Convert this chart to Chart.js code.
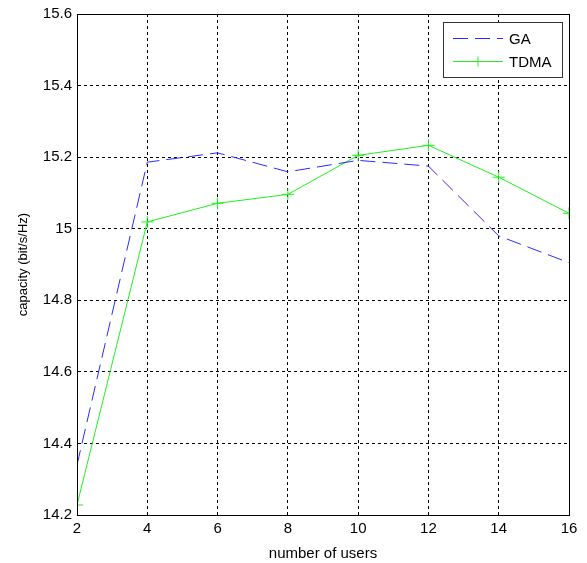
<!DOCTYPE html>
<html>
<head>
<meta charset="utf-8">
<script src="https://cdn.jsdelivr.net/npm/chart.js@4"></script>
<style>
  body { margin: 0; background: #fff; }
  #wrap { width: 587px; height: 563px; }
</style>
</head>
<body>
<div id="wrap"><canvas id="myChart" width="587" height="563"></canvas></div>
<script>
let users = [2, 4, 6, 8, 10, 12, 14, 16];
let gaCapacity = [14.34, 15.186, 15.212, 15.159, 15.191, 15.175, 14.98, 14.905];
let tdmaCapacity = [14.228, 15.019, 15.071, 15.096, 15.205, 15.233, 15.144, 15.043];
let seriesNames = ['GA', 'TDMA'];
let seriesColors = ['#2b2bff', '#22ee22'];

let fontFamily = '"Liberation Sans", Arial, sans-serif';

function toPoints(xs, ys) {
    return xs.map((x, i) => ({ x: x, y: ys[i] }));
}

// box around the plot + legend drawn inside the plot area
let frameAndLegend = {
    id: 'frameAndLegend',
    afterDatasetsDraw(chart) {
        let ctx = chart.ctx;
        let a = chart.chartArea;
        ctx.save();
        ctx.strokeStyle = '#000';
        ctx.lineWidth = 1;
        ctx.setLineDash([]);
        ctx.strokeRect(Math.round(a.left) + 0.5, Math.round(a.top) + 0.5,
            Math.round(a.right - a.left), Math.round(a.bottom - a.top));

        let bx = Math.round(a.right) - 126, by = Math.round(a.top) + 8, bw = 119, bh = 55;
        ctx.fillStyle = '#fff';
        ctx.fillRect(bx, by, bw, bh);
        ctx.strokeStyle = '#333';
        ctx.strokeRect(bx + 0.5, by + 0.5, bw, bh);

        chart.data.datasets.forEach((ds, i) => {
            let y = by + 16 + i * 23 + 0.5;
            ctx.strokeStyle = ds.borderColor;
            ctx.lineWidth = 1;
            ctx.setLineDash(ds.borderDash || []);
            ctx.beginPath();
            ctx.moveTo(bx + 10, y);
            ctx.lineTo(bx + 60, y);
            ctx.stroke();
            ctx.setLineDash([]);
            if (ds.pointStyle === 'cross') {
                ctx.beginPath();
                ctx.moveTo(bx + 35, y - 5);
                ctx.lineTo(bx + 35, y + 5);
                ctx.moveTo(bx + 30, y);
                ctx.lineTo(bx + 40, y);
                ctx.stroke();
            }
            ctx.fillStyle = '#000';
            ctx.font = '15px ' + fontFamily;
            ctx.textBaseline = 'middle';
            ctx.fillText(ds.label, bx + 66, y + 1);
        });
        ctx.restore();
    }
};

let ctx = document.getElementById('myChart').getContext('2d');

let chart = new Chart(ctx, {
    type: 'line',
    data: {
        datasets: [{
            label: seriesNames[0],
            data: toPoints(users, gaCapacity),
            borderColor: seriesColors[0],
            borderWidth: 1,
            borderDash: [15, 7],
            pointRadius: 0,
            fill: false,
            tension: 0
        }, {
            label: seriesNames[1],
            data: toPoints(users, tdmaCapacity),
            borderColor: seriesColors[1],
            backgroundColor: seriesColors[1],
            borderWidth: 1,
            pointStyle: 'cross',
            pointRadius: 6,
            pointBorderWidth: 1,
            fill: false,
            tension: 0
        }]
    },
    options: {
        responsive: false,
        animation: false,
        layout: { padding: { top: 14, right: 18, left: 0, bottom: 0 } },
        plugins: {
            legend: { display: false },
            tooltip: { enabled: false }
        },
        scales: {
            x: {
                type: 'linear',
                min: 2,
                max: 16,
                ticks: {
                    stepSize: 2,
                    color: '#000',
                    font: { size: 15, family: fontFamily },
                    padding: 5
                },
                grid: { color: '#000', lineWidth: 1, drawTicks: false },
                border: { color: '#000', dash: [3, 3], display: true },
                title: {
                    display: true,
                    text: 'number of users',
                    color: '#000',
                    font: { size: 15, family: fontFamily },
                    padding: { top: 3, bottom: 0 }
                },
                afterFit(scale) { scale.height = 48; }
            },
            y: {
                min: 14.2,
                max: 15.6,
                ticks: {
                    stepSize: 0.2,
                    color: '#000',
                    font: { size: 15, family: fontFamily },
                    padding: 5,
                    callback: v => String(Number(v.toFixed(1)))
                },
                grid: { color: '#000', lineWidth: 1, drawTicks: false },
                border: { color: '#000', dash: [3, 3], display: true },
                title: {
                    display: true,
                    text: 'capacity (bit/s/Hz)',
                    color: '#000',
                    font: { size: 13, family: fontFamily },
                    padding: { top: 16, bottom: 0 }
                },
                afterFit(scale) { scale.width = 77; }
            }
        }
    },
    plugins: [frameAndLegend]
});
</script>
</body>
</html>
